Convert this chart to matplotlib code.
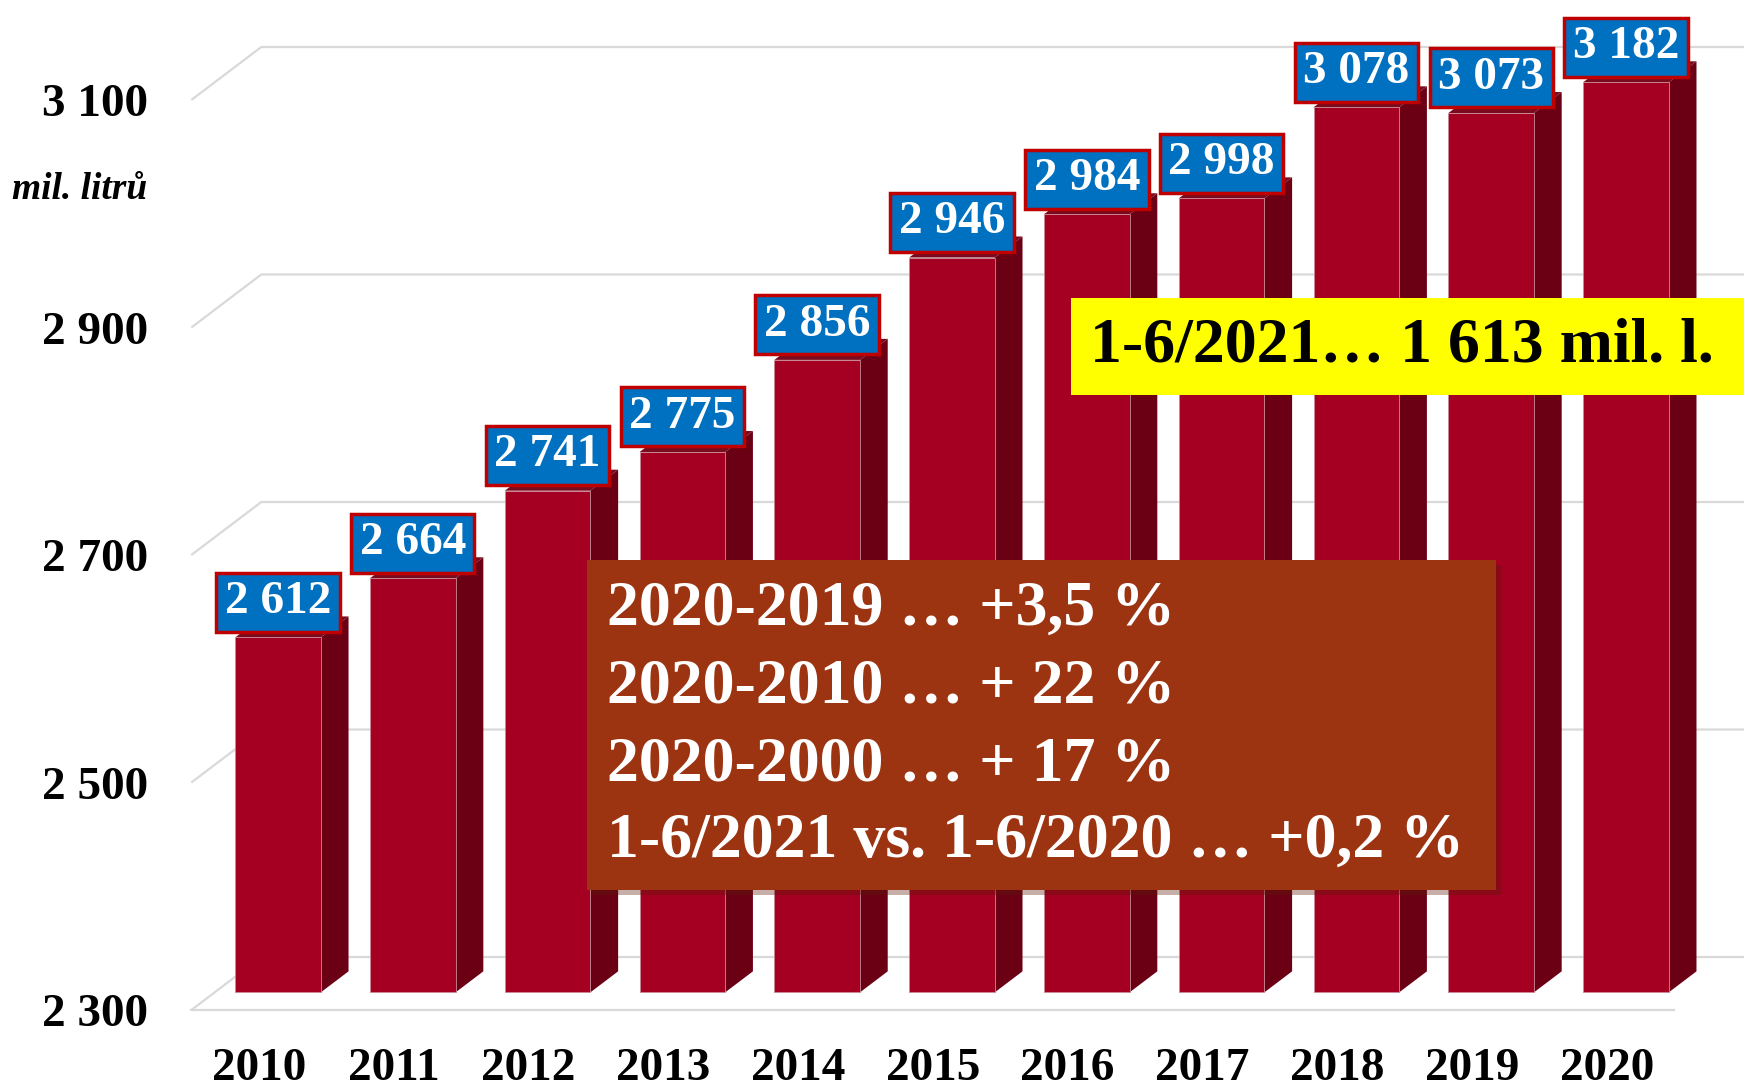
import matplotlib
matplotlib.use("Agg")
import matplotlib.pyplot as plt
from matplotlib.patches import Polygon, Rectangle

years = ["2010", "2011", "2012", "2013", "2014", "2015", "2016", "2017", "2018", "2019", "2020"]
values = [2612, 2664, 2741, 2775, 2856, 2946, 2984, 2998, 3078, 3073, 3182]
value_labels = ["2 612", "2 664", "2 741", "2 775", "2 856", "2 946", "2 984", "2 998", "3 078", "3 073", "3 182"]
y_ticks = [2300, 2500, 2700, 2900, 3100]
y_tick_labels = ["2 300", "2 500", "2 700", "2 900", "3 100"]
unit_label = "mil. litrů"
yellow_text = "1-6/2021… 1 613 mil. l."
brown_lines = ["2020-2019 … +3,5 %", "2020-2010 … + 22 %", "2020-2000 … + 17 %",
               "1-6/2021 vs. 1-6/2020 … +0,2 %"]

YMIN, YMAX = 2300, 3100
SERIF = ["Liberation Serif", "DejaVu Serif"]
plt.rcParams["font.family"] = SERIF

fig = plt.figure(figsize=(17.44, 10.87), dpi=100)
ax = fig.add_axes([0.1097, 0.0708, 0.8502, 0.8372])
n = len(years)
ax.set_xlim(-0.5, n - 0.5)
ax.set_ylim(YMIN, YMAX)
for s in ax.spines.values():
    s.set_visible(False)

# oblique depth offset (full depth) in data units
DX, DY = 0.519, 46.6

def P(x, y, d):
    return (x + d * DX, y + d * DY)

grid_c = "#D9D9D9"
# gridlines: back wall + left diagonal
for v in y_ticks:
    ax.plot(*zip(P(-0.5, v, 0), P(-0.5, v, 1), P(n - 0.5, v, 1)), color=grid_c, lw=1.6,
            clip_on=False, zorder=1, solid_capstyle="butt")
# floor front edge
ax.plot(*zip(P(-0.5, YMIN, 0), P(n - 0.5, YMIN, 0)), color=grid_c, lw=1.6, clip_on=False, zorder=1)

front_c, side_c, top_c = "#A50021", "#6B0015", "#7A0A1E"
w = 0.635
d0, d1 = 1 / 3, 0.73
shift = -0.03
for i, (v, lab) in enumerate(zip(values, value_labels)):
    h = min(v, YMAX)
    xc = i + shift
    xl, xr = xc - w / 2, xc + w / 2
    front = [P(xl, YMIN, d0), P(xr, YMIN, d0), P(xr, h, d0), P(xl, h, d0)]
    side = [P(xr, YMIN, d0), P(xr, YMIN, d1), P(xr, h, d1), P(xr, h, d0)]
    top = [P(xl, h, d0), P(xr, h, d0), P(xr, h, d1), P(xl, h, d1)]
    ax.add_patch(Polygon(side, closed=True, fc=side_c, ec="none", clip_on=False, zorder=3))
    ax.add_patch(Polygon(top, closed=True, fc=top_c, ec="none", clip_on=False, zorder=3))
    ax.add_patch(Polygon(front, closed=True, fc=front_c, ec="#C88A94", lw=0.6, clip_on=False, zorder=3))
    cx, cy = P(xc, h, d0)
    ax.text(cx, cy + 31, lab, ha="center", va="center", fontsize=34, fontweight="bold",
            color="white", zorder=8, clip_on=False,
            bbox=dict(boxstyle="square,pad=0.18", fc="#0070C0", ec="#C00000", lw=2.5))

ax.set_yticks(y_ticks)
ax.set_yticklabels(y_tick_labels, fontsize=34, fontweight="bold")
ax.set_xticks(range(n))
ax.set_xticklabels(years, fontsize=34, fontweight="bold")
ax.tick_params(axis="y", length=0, pad=31)
ax.tick_params(axis="x", length=0, pad=27)

fig.text(0.0843, 0.826, unit_label, ha="right", va="center", fontsize=27,
         fontweight="bold", fontstyle="italic")

# brown annotation box with shadow
bx0, by0, bx1, by1 = 0.3367, 0.1812, 0.8578, 0.4852
fig.patches.append(Rectangle((bx0 + 0.003, by0 - 0.005), bx1 - bx0, by1 - by0,
                             transform=fig.transFigure, fc="#5A1A08", ec="none", alpha=0.35, zorder=9))
fig.patches.append(Rectangle((bx0, by0), bx1 - bx0, by1 - by0, transform=fig.transFigure,
                             fc="#9C3412", ec="none", zorder=10))
for k, (line, yc) in enumerate(zip(brown_lines, [0.4391, 0.3675, 0.2958, 0.2252])):
    fig.text(0.3482, yc, line, ha="left", va="center", fontsize=46, fontweight="bold",
             color="white", zorder=11)

# yellow box
fig.patches.append(Rectangle((0.6142, 0.6366), 0.3858, 0.0891, transform=fig.transFigure,
                             fc="#FFFF00", ec="none", zorder=10))
fig.text(0.625, 0.681, yellow_text, ha="left", va="center", fontsize=46, fontweight="bold",
         color="black", zorder=11)

fig.savefig("out.png", dpi=100)
